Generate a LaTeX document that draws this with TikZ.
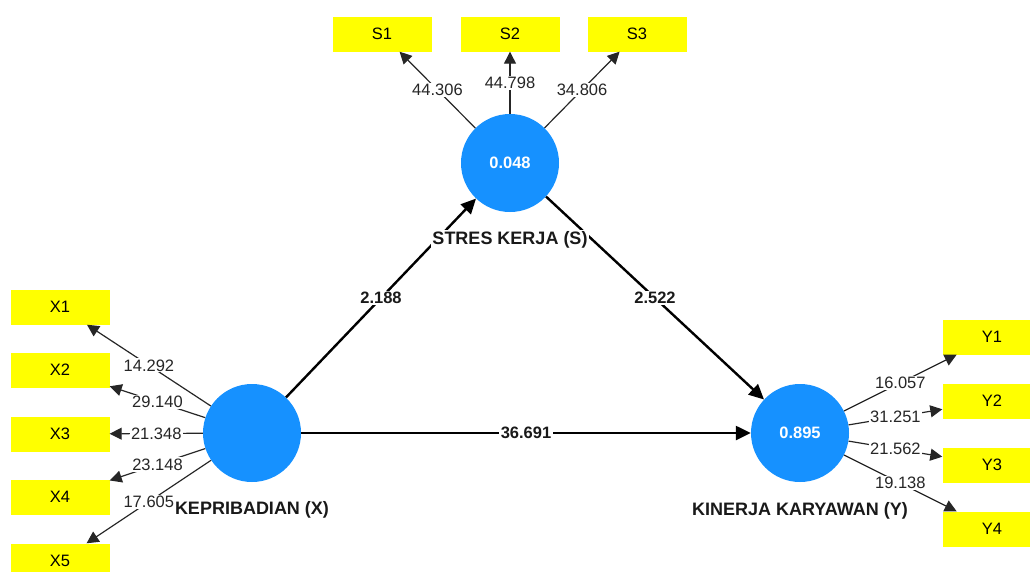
\documentclass[tikz,border=0pt]{standalone}
\usepackage{fontspec}
\setmainfont{Liberation Sans}
\usetikzlibrary{arrows.meta}
\definecolor{lvblue}{RGB}{22,145,255}
\definecolor{mvyellow}{RGB}{255,255,0}
\begin{document}
\begin{tikzpicture}[x=1pt,y=-1pt,
 lv/.style={circle,fill=lvblue,minimum size=98pt,inner sep=0pt,text=white,font=\bfseries\fontsize{16.5}{20}\selectfont},
 mv/.style={rectangle,fill=mvyellow,minimum width=99pt,minimum height=35pt,inner sep=0pt,font=\fontsize{16.5}{20}\selectfont},
 lvname/.style={fill=white,inner sep=1.5pt,font=\bfseries\fontsize{18}{21}\selectfont,text=black!90},
 ld/.style={draw=black!85,line width=1.2pt,-{Triangle[length=12pt,width=12pt]}},
 ldlab/.style={midway,fill=white,inner sep=1.2pt,font=\fontsize{16.5}{20}\selectfont,text=black!85},
 sp/.style={draw=black,line width=2.4pt,-{Triangle[length=15pt,width=14pt]}},
 splab/.style={midway,fill=white,inner sep=1.5pt,font=\bfseries\fontsize{16.5}{20}\selectfont,text=black!90},
]
\useasboundingbox (0,0) rectangle (1030,571);
\clip (0,0) rectangle (1030,571);
% latent variables
\node[lv] (X) at (252,433) {};
\node[lv] (S) at (510,163) {0.048};
\node[lv] (Y) at (800,433) {0.895};
% indicators
\node[mv] (X1) at (60,307) {X1};
\node[mv] (X2) at (60,370) {X2};
\node[mv] (X3) at (60,434) {X3};
\node[mv] (X4) at (60,497) {X4};
\node[mv] (X5) at (60,561) {X5};
\node[mv] (S1) at (382,34) {S1};
\node[mv] (S2) at (510,34) {S2};
\node[mv] (S3) at (637,34) {S3};
\node[mv] (Y1) at (992,337) {Y1};
\node[mv] (Y2) at (992,401) {Y2};
\node[mv] (Y3) at (992,465) {Y3};
\node[mv] (Y4) at (992,529) {Y4};
% structural paths
\draw[sp] (X) -- node[splab] {2.188} (S);
\draw[sp] (S) -- node[splab] {2.522} (Y);
\draw[sp] (X) -- node[splab] {36.691} (Y);
% construct names
\node[lvname] (nx) at (252,510) {KEPRIBADIAN (X)};
\node[lvname] (ns) at (510,240) {STRES KERJA (S)};
\node[lvname] (ny) at (800,511) {KINERJA KARYAWAN (Y)};
% loadings
\draw[ld] (X) -- node[ldlab] {14.292} (X1);
\draw[ld] (X) -- node[ldlab] {29.140} (X2);
\draw[ld] (X) -- node[ldlab] {21.348} (X3);
\draw[ld] (X) -- node[ldlab] {23.148} (X4);
\draw[ld] (X) -- node[ldlab] {17.605} (X5);
\draw[ld] (S) -- node[ldlab] {44.306} (S1);
\draw[ld] (S) -- node[ldlab] {44.798} (S2);
\draw[ld] (S) -- node[ldlab] {34.806} (S3);
\draw[ld] (Y) -- node[ldlab] {16.057} (Y1);
\draw[ld] (Y) -- node[ldlab] {31.251} (Y2);
\draw[ld] (Y) -- node[ldlab] {21.562} (Y3);
\draw[ld] (Y) -- node[ldlab] {19.138} (Y4);
\end{tikzpicture}
\end{document}
